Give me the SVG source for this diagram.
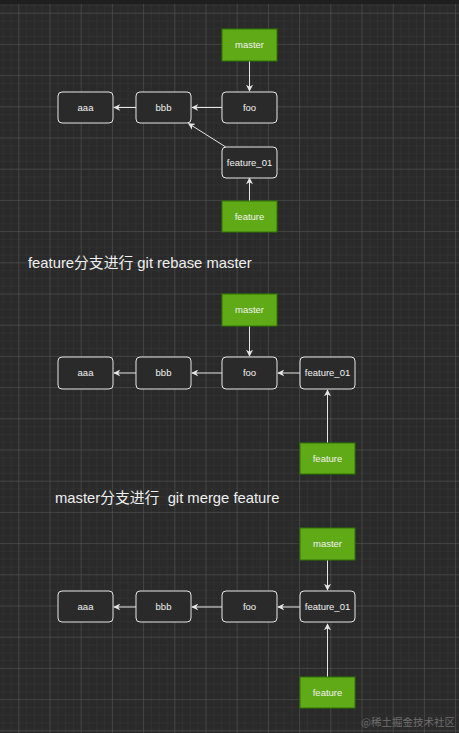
<svg xmlns="http://www.w3.org/2000/svg" width="459" height="733" viewBox="0 0 459 733">
<style>
.n rect{fill:#2a2a2a;stroke:#e6e6e6;stroke-width:1}
.g rect{fill:#60a917;stroke:#2d7600;stroke-width:1}
.n text,.g text{font-family:"Liberation Sans",Arial,sans-serif;font-size:9.5px;fill:#f2f2f2;text-anchor:middle}
.t{font-family:"Liberation Sans","Noto Sans CJK SC",sans-serif;font-size:14.8px;fill:#f0f0f0;white-space:pre}
#edges path{fill:none;stroke:#e6e6e6;stroke-width:1;marker-end:url(#ah)}
</style>
<defs>
<pattern id="minor" patternUnits="userSpaceOnUse" x="18.3" y="12.7" width="7.8" height="7.8">
<path d="M0 0H7.8M0 0V7.8" fill="none" stroke="#353535" stroke-width="1"/>
</pattern>
<pattern id="major" patternUnits="userSpaceOnUse" x="18.3" y="12.7" width="31.2" height="31.2">
<path d="M0 0H31.2M0 0V31.2" fill="none" stroke="#555555" stroke-width="1"/>
</pattern>
<marker id="ah" viewBox="0 0 10 10" refX="9" refY="5" markerWidth="7" markerHeight="7" markerUnits="userSpaceOnUse" orient="auto">
<path d="M0 0L10 5L0 10L3 5Z" fill="#e6e6e6"/>
</marker>
</defs>
<rect width="459" height="733" fill="#2a2a2a"/>
<rect width="459" height="733" fill="url(#minor)"/>
<rect width="459" height="733" fill="url(#major)"/>
<rect width="459" height="4" fill="#1f1f1f"/>

<g id="edges">
<path d="M249.5 61V91"/>
<path d="M222 107.5H192"/>
<path d="M136 107.5H114"/>
<path d="M225.8 147L188.5 123.5"/>
<path d="M249.5 201V178"/>

<path d="M249.5 326V356"/>
<path d="M300 373H278"/>
<path d="M222 373H192"/>
<path d="M136 373H114"/>
<path d="M327.5 443V390"/>

<path d="M327.5 560V590"/>
<path d="M300 607H278"/>
<path d="M222 607H192"/>
<path d="M136 607H114"/>
<path d="M327.5 677V624"/>
</g>

<g id="d1-master" class="g"><rect x="222" y="29" width="55" height="32"/><text x="249.5" y="48.3">master</text></g>
<g id="d1-aaa" class="n"><rect x="58" y="92" width="55" height="31" rx="4"/><text x="85.5" y="110.8">aaa</text></g>
<g id="d1-bbb" class="n"><rect x="136" y="92" width="55" height="31" rx="4"/><text x="163.5" y="110.8">bbb</text></g>
<g id="d1-foo" class="n"><rect x="222" y="92" width="55" height="31" rx="4"/><text x="249.5" y="110.8">foo</text></g>
<g id="d1-feature01" class="n"><rect x="222" y="147" width="55" height="31" rx="4"/><text x="249.5" y="165.8">feature_01</text></g>
<g id="d1-feature" class="g"><rect x="222" y="201" width="55" height="31"/><text x="249.5" y="219.8">feature</text></g>

<text class="t" x="28" y="268.3">feature分支进行 git rebase master</text>

<g id="d2-master" class="g"><rect x="222" y="294" width="55" height="32"/><text x="249.5" y="313.3">master</text></g>
<g id="d2-aaa" class="n"><rect x="58" y="357" width="55" height="32" rx="4"/><text x="85.5" y="376.3">aaa</text></g>
<g id="d2-bbb" class="n"><rect x="136" y="357" width="55" height="32" rx="4"/><text x="163.5" y="376.3">bbb</text></g>
<g id="d2-foo" class="n"><rect x="222" y="357" width="55" height="32" rx="4"/><text x="249.5" y="376.3">foo</text></g>
<g id="d2-feature01" class="n"><rect x="300" y="357" width="55" height="32" rx="4"/><text x="327.5" y="376.3">feature_01</text></g>
<g id="d2-feature" class="g"><rect x="300" y="443" width="55" height="31"/><text x="327.5" y="461.8">feature</text></g>

<text class="t" x="55" y="502.5" xml:space="preserve">master分支进行  git merge feature</text>

<g id="d3-master" class="g"><rect x="300" y="528" width="55" height="32"/><text x="327.5" y="547.3">master</text></g>
<g id="d3-aaa" class="n"><rect x="58" y="591" width="55" height="31" rx="4"/><text x="85.5" y="609.8">aaa</text></g>
<g id="d3-bbb" class="n"><rect x="136" y="591" width="55" height="31" rx="4"/><text x="163.5" y="609.8">bbb</text></g>
<g id="d3-foo" class="n"><rect x="222" y="591" width="55" height="31" rx="4"/><text x="249.5" y="609.8">foo</text></g>
<g id="d3-feature01" class="n"><rect x="300" y="591" width="55" height="31" rx="4"/><text x="327.5" y="609.8">feature_01</text></g>
<g id="d3-feature" class="g"><rect x="300" y="677" width="55" height="31"/><text x="327.5" y="695.8">feature</text></g>

<text x="455" y="726" text-anchor="end" font-family="'Noto Sans CJK SC',sans-serif" font-size="10.5px" fill="#6e6e6e">@稀土掘金技术社区</text>
</svg>
